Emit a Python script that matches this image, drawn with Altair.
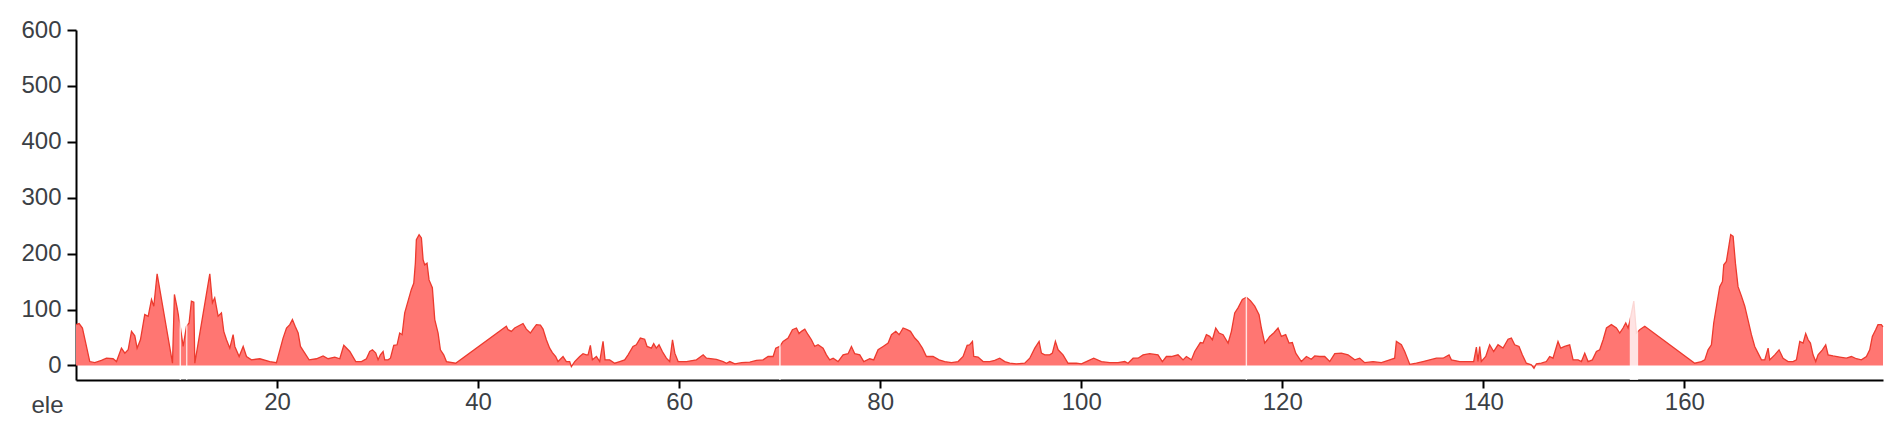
import altair as alt
import pandas as pd

km = [
    0.0, 0.31, 0.64, 0.97, 1.37, 1.87, 2.53, 3.03, 3.69, 4.03, 4.52, 4.86, 5.19, 5.52, 5.85,
    6.08, 6.41, 6.84, 7.18, 7.51, 7.74, 8.07, 9.60, 9.79, 10.06, 10.32, 10.66, 10.99, 11.25,
    11.48, 11.72, 11.82, 13.31, 13.57, 13.80, 14.14, 14.47, 14.70, 14.97, 15.30, 15.63, 15.80,
    16.23, 16.63, 16.96, 17.45, 18.29, 19.28, 19.94, 20.60, 20.94, 21.27, 21.53, 21.80, 22.10,
    22.33, 22.76, 23.19, 23.92, 24.58, 25.08, 25.74, 26.24, 26.64, 27.24, 27.83, 28.40, 28.89,
    29.22, 29.49, 29.82, 30.05, 30.28, 30.55, 30.71, 31.04, 31.28, 31.61, 31.94, 32.20, 32.44,
    32.70, 33.03, 33.36, 33.60, 33.76, 33.86, 34.13, 34.36, 34.53, 34.69, 34.92, 35.12, 35.45,
    35.69, 36.02, 36.25, 36.58, 36.85, 37.77, 42.81, 42.98, 43.31, 43.64, 44.47, 44.80, 45.20,
    45.47, 45.80, 46.20, 46.46, 46.79, 47.12, 47.39, 47.72, 47.95, 48.45, 48.78, 49.11, 49.28,
    49.61, 50.11, 50.44, 50.77, 50.94, 51.17, 51.37, 51.77, 52.10, 52.43, 52.63, 53.09, 53.59,
    54.09, 54.58, 54.92, 55.41, 55.74, 56.14, 56.57, 56.81, 57.24, 57.47, 57.73, 58.00, 58.33,
    58.73, 59.06, 59.34, 59.57, 59.90, 60.73, 61.72, 62.39, 62.72, 63.71, 64.38, 64.71, 65.04,
    65.54, 66.20, 67.03, 67.69, 68.35, 68.85, 69.35, 69.61, 70.01, 70.34, 70.84, 71.27, 71.67,
    71.93, 72.17, 72.50, 72.83, 73.16, 73.49, 73.82, 74.32, 74.65, 74.98, 75.32, 75.81, 76.31,
    76.81, 77.14, 77.47, 77.97, 78.37, 78.96, 79.36, 79.79, 80.29, 80.79, 81.12, 81.55, 81.88,
    82.28, 82.68, 83.01, 83.44, 83.77, 84.20, 84.60, 85.26, 85.86, 86.42, 87.09, 87.75, 88.25,
    88.65, 88.91, 89.18, 89.31, 89.74, 90.24, 90.90, 91.40, 91.89, 92.39, 92.89, 93.55, 94.38,
    94.88, 95.38, 95.81, 96.04, 96.37, 96.87, 97.13, 97.43, 97.70, 98.19, 98.69, 99.52, 100.02,
    100.51, 101.24, 102.01, 102.84, 103.66, 104.33, 104.66, 105.16, 105.65, 106.15, 106.81,
    107.64, 108.07, 108.47, 108.97, 109.63, 110.13, 110.46, 110.96, 111.29, 111.85, 112.12,
    112.45, 112.78, 113.05, 113.38, 113.71, 114.11, 114.61, 114.94, 115.27, 115.60, 116.03,
    116.43, 116.83, 117.26, 117.69, 117.92, 118.25, 118.52, 118.75, 119.15, 119.58, 119.91,
    120.34, 120.67, 121.00, 121.34, 121.90, 122.40, 122.89, 123.23, 123.72, 124.22, 124.72,
    125.22, 125.88, 126.54, 127.21, 127.70, 128.20, 129.03, 129.86, 130.69, 131.18, 131.35,
    131.85, 132.18, 132.51, 132.68, 133.34, 134.00, 134.67, 135.33, 135.99, 136.59, 136.82,
    137.65, 138.48, 139.04, 139.31, 139.47, 139.64, 139.80, 140.24, 140.63, 141.03, 141.46,
    141.96, 142.46, 142.79, 143.12, 143.55, 143.88, 144.28, 144.78, 145.04, 145.28, 145.77,
    146.27, 146.60, 146.93, 147.43, 147.70, 148.09, 148.59, 148.93, 149.43, 149.76, 150.09,
    150.42, 150.85, 151.25, 151.58, 151.92, 152.25, 152.74, 153.24, 153.57, 153.90, 154.17,
    154.40, 154.57, 154.97, 155.23, 155.56, 156.06, 161.03, 161.70, 162.03, 162.36, 162.69,
    162.92, 163.25, 163.52, 163.79, 163.92, 164.18, 164.45, 164.61, 164.85, 165.08, 165.34,
    165.68, 166.01, 166.40, 166.67, 167.00, 167.33, 167.67, 168.00, 168.33, 168.49, 168.99,
    169.42, 169.82, 170.32, 170.81, 171.15, 171.48, 171.81, 172.07, 172.31, 172.54, 172.80,
    173.07, 173.30, 173.73, 174.06, 174.30, 174.79, 175.46, 176.12, 176.62, 177.11, 177.61,
    178.11, 178.44, 178.70, 179.03, 179.26, 179.59, 179.76,
]
ele = [
    73, 75, 67, 40, 7, 5, 9, 13, 12, 7, 31, 22, 28, 61, 53,
    31, 46, 91, 88, 118, 106, 164, 4, 127, 103, 76, 34, 70, 76,
    115, 113, 4, 164, 112, 121, 88, 94, 61, 46, 31, 55, 34,
    16, 34, 16, 10, 12, 7, 5, 49, 67, 73, 82, 70, 58,
    34, 22, 10, 12, 17, 12, 15, 12, 36, 25, 7, 7, 12,
    25, 28, 22, 10, 19, 25, 10, 10, 13, 36, 37, 58, 55,
    94, 115, 136, 147, 183, 225, 234, 228, 189, 180, 183, 153, 139,
    82, 58, 28, 19, 7, 4, 70, 64, 61, 67, 75, 65, 58,
    65, 73, 72, 65, 46, 31, 23, 16, 7, 16, 7, 7, -2,
    7, 16, 21, 19, 19, 36, 10, 16, 7, 43, 10, 10, 4,
    7, 10, 19, 34, 37, 49, 47, 34, 31, 39, 31, 37, 25,
    13, 7, 46, 22, 7, 7, 10, 19, 13, 11, 7, 4, 7,
    3, 5, 6, 9, 10, 16, 16, 31, 34, 43, 49, 64, 67,
    57, 61, 65, 55, 46, 34, 37, 31, 19, 10, 13, 7, 19,
    21, 34, 21, 19, 7, 12, 10, 28, 34, 40, 55, 61, 55,
    67, 64, 61, 49, 43, 31, 16, 16, 10, 7, 5, 7, 16,
    36, 37, 43, 16, 15, 7, 7, 9, 13, 7, 4, 3, 4,
    13, 31, 43, 22, 19, 19, 22, 43, 28, 19, 4, 4, 3,
    7, 13, 7, 5, 5, 7, 4, 13, 13, 19, 21,
    19, 7, 16, 16, 19, 10, 16, 10, 25, 41, 40,
    55, 52, 46, 67, 58, 55, 40, 61, 94, 103, 118,
    122, 116, 106, 91, 67, 40, 46, 52, 58, 67, 52,
    55, 40, 41, 22, 7, 16, 11, 17, 16, 16, 7,
    21, 22, 19, 10, 13, 5, 7, 5, 10, 13, 43,
    37, 25, 10, 2, 4, 7, 10, 13, 13, 19, 10,
    7, 7, 7, 33, 7, 34, 7, 16, 37, 25, 37,
    31, 47, 49, 37, 34, 19, 4, 1, -5, 3, 4,
    7, 16, 13, 43, 31, 34, 37, 10, 10, 7, 22,
    7, 10, 25, 28, 46, 67, 73, 67, 58, 67, 76,
    67, 79, 115, 58, 64, 70, 4, 7, 10, 28, 37,
    76, 112, 141, 150, 180, 186, 216, 234, 231, 183, 141,
    124, 106, 76, 55, 34, 22, 10, 10, 31, 10, 19,
    28, 13, 7, 7, 10, 43, 40, 57, 46, 40, 19,
    7, 19, 28, 37, 19, 17, 15, 13, 16, 12, 10,
    16, 28, 52, 64, 73, 73, 69,
]

# Light stripes (gaps in the recorded track), km start / end
gap_start = [10.30, 10.95, 69.95, 116.36, 154.57]
gap_end = [10.45, 11.08, 70.10, 116.50, 155.40]

x_ticks = [20, 40, 60, 80, 100, 120, 140, 160]
y_ticks = [0, 100, 200, 300, 400, 500, 600]

df = pd.DataFrame({"km": km, "ele": ele})
gaps = pd.DataFrame({"start": gap_start, "end": gap_end})

x_scale = alt.Scale(domain=[0, 179.76], nice=False, zero=False)
x_axis = alt.Axis(values=x_ticks, title=None, tickSize=8, labelPadding=2)
y_scale = alt.Scale(domain=[-26, 600], nice=False, zero=False)
y_axis = alt.Axis(
    values=y_ticks,
    title="ele",
    titleAngle=0,
    titleAlign="right",
    titleBaseline="alphabetic",
    titleX=-13,
    titleY=382,
    tickSize=9,
    labelPadding=6,
)

area = alt.Chart(df).mark_area(color="#ff7672", opacity=1).encode(
    x=alt.X("km:Q", scale=x_scale, axis=x_axis),
    y=alt.Y("ele:Q", scale=y_scale, axis=y_axis),
    y2=alt.value("height"),
)
line = alt.Chart(df).mark_line(color="#ec3a2e", strokeWidth=1.3).encode(
    x=alt.X("km:Q", scale=x_scale, axis=x_axis),
    y=alt.Y("ele:Q", scale=y_scale, axis=y_axis),
)
gap = alt.Chart(gaps).mark_rect(color="white", opacity=0.8).encode(
    x=alt.X("start:Q", scale=x_scale, axis=x_axis),
    x2="end:Q",
)

chart = (
    alt.layer(area, line, gap)
    .properties(
        width=1807,
        height=350,
        autosize=alt.AutoSizeParams(type="none"),
        padding={"left": 68, "top": 22, "right": 5, "bottom": 40},
    )
    .configure_view(stroke=None)
    .configure_axis(
        grid=False,
        domainColor="#000000",
        domainWidth=2,
        tickColor="#000000",
        tickWidth=2,
        labelFont="Liberation Sans",
        labelFontSize=24,
        labelColor="#3b4045",
        titleFont="Liberation Sans",
        titleFontSize=24,
        titleFontWeight="normal",
        titleColor="#3b4045",
    )
)

chart.save("out.html", embed_options={"renderer": "svg", "actions": False})
